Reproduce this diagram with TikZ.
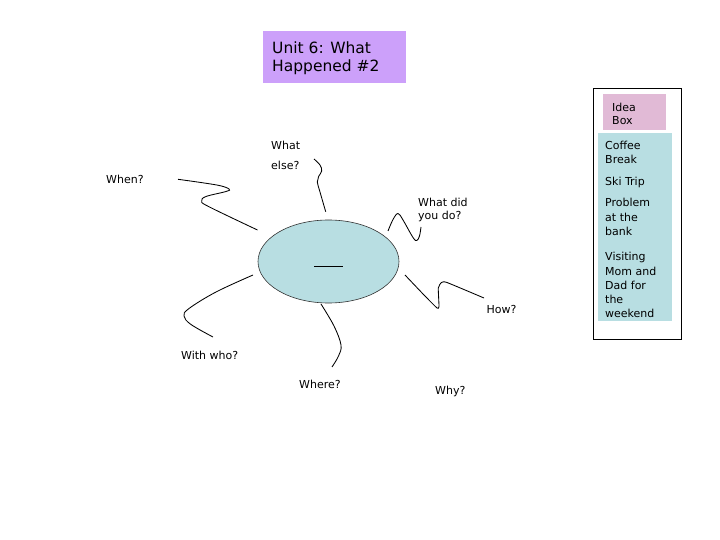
\documentclass[tikz,border=0pt]{standalone}
\usepackage{fontspec}
\setmainfont{DejaVu Sans}
\usetikzlibrary{shapes.geometric}
\definecolor{titlepurple}{RGB}{204,160,250}
\definecolor{ideapink}{RGB}{225,186,214}
\definecolor{lightblue}{RGB}{184,222,226}
\begin{document}
\begin{tikzpicture}[x=1pt,y=-1pt,
  lbl/.style={anchor=base west, inner sep=0, font=\fontsize{11}{13}\selectfont},
  ttl/.style={anchor=base west, inner sep=0, font=\fontsize{15.5}{18}\selectfont},
  panel/.style={anchor=north west, inner sep=0, draw=none},
  wig/.style={line width=0.85pt, smooth, tension=0.6}]
\useasboundingbox (0,0) rectangle (720,540);
\fill[white] (0,0) rectangle (720,540);

% title
\node[panel, fill=titlepurple, minimum width=143, minimum height=52] (titlebox) at (263,31) {};
\node[ttl] (t1) at (272,53.5) {Unit 6: What};
\node[ttl] (t2) at (272,71.5) {Happened \#2};

% idea box
\node[panel, draw=black, line width=0.8pt, minimum width=88, minimum height=251] (outer) at (592.5,88) {};
\node[panel, fill=ideapink, minimum width=63, minimum height=36] (ideabox) at (603,94) {};
\node[lbl] (i1) at (612,111.5) {Idea};
\node[lbl] (i2) at (612,124.5) {Box};
\node[panel, fill=lightblue, minimum width=74, minimum height=188] (listbox) at (598,133) {};
\node[lbl] (l1) at (605,150) {Coffee};
\node[lbl] (l2) at (605,164) {Break};
\node[lbl] (l3) at (605,185.5) {Ski Trip};
\node[lbl] (l4) at (605,207) {Problem};
\node[lbl] (l5) at (605,221.3) {at the};
\node[lbl] (l6) at (605,235.6) {bank};
\node[lbl] (l7) at (605,260.7) {Visiting};
\node[lbl] (l8) at (605,275) {Mom and};
\node[lbl] (l9) at (605,289.3) {Dad for};
\node[lbl] (l10) at (605,303.6) {the};
\node[lbl] (l11) at (605,317.9) {weekend};

% centre ellipse
\node[ellipse, draw=black!80, line width=0.6pt, fill=lightblue, minimum width=141, minimum height=83, inner sep=0] (ell) at (328.5,261.5) {};
\draw[line width=0.8pt] ([xshift=-14.5pt,yshift=-4.5pt]ell.center) -- ++(29,0);

% labels
\node[lbl] (what1) at (271,150) {What};
\node[lbl] (what2) at (271,170) {else?};
\node[lbl] (when) at (106,184) {When?};
\node[lbl] (did1) at (418,207) {What did};
\node[lbl] (did2) at (418,220) {you do?};
\node[lbl] (how) at (486.5,313) {How?};
\node[lbl] (withwho) at (181,359) {With who?};
\node[lbl] (where) at (299,388) {Where?};
\node[lbl] (why) at (435,394) {Why?};

% connector ends
\coordinate (a1) at (257.5,230);   \coordinate (b1) at (178,179.3);
\coordinate (a2) at (325.7,211.7); \coordinate (b2) at (314,159);
\coordinate (a3) at (388,231);     \coordinate (b3) at (421,227);
\coordinate (a4) at (405,275);     \coordinate (b4) at (484,298);
\coordinate (a5) at (321,304);     \coordinate (b5) at (332,367);
\coordinate (a6) at (253,275);     \coordinate (b6) at (213,337);

\draw[wig] plot coordinates {(a1) (208.5,206.5) (201.7,201) (206,196.5) (226,191.5) (229,189) (216.7,185) (b1)};
\draw[wig] plot coordinates {(a2) (320,192) (317.3,182) (318.6,176.5) (321.7,171) (320,165) (b2)};
\draw[wig] plot coordinates {(a3) (393,219.5) (398,213.5) (403,220) (413,237.5) (416.8,240.5) (419.5,236) (b3)};
\draw[wig, tension=0.3] plot coordinates {(a4) (424,295) (437,308) (439,306.5) (438.3,288) (441.5,282.5) (447,282.5) (b4)};
\draw[wig] plot coordinates {(a5) (334,326) (341,345) (338.5,356) (b5)};
\draw[wig] plot coordinates {(a6) (216,292) (189,308.5) (184,316) (191,324.5) (b6)};
\end{tikzpicture}
\end{document}
